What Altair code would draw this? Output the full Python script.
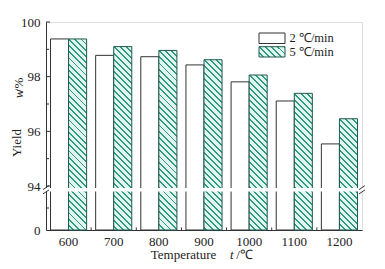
import math
import altair as alt
import pandas as pd

# ---- data ----
temps = ["600", "700", "800", "900", "1000", "1100", "1200"]
series = ["2 ℃/min", "5 ℃/min"]
rate2 = [99.38, 98.78, 98.73, 98.43, 97.81, 97.11, 95.54]
rate5 = [99.38, 99.10, 98.96, 98.62, 98.06, 97.39, 96.46]
y_ticks = [0, 94, 96, 98, 100]
y_minor = [47, 95, 97, 99]

W, H = 316, 208
Y_DOMAIN = [0, 94, 100]
Y_RANGE = [H, 164, 0]
FONT = "Liberation Serif"
HATCH_BG = "#e2f4ee"
HATCH_FG = "#2e9a80"
HATCH_EDGE = "#1f5a4c"

rows = []
for t, a, b in zip(temps, rate2, rate5):
    rows.append({"temp": t, "series": series[0], "yield": a})
    rows.append({"temp": t, "series": series[1], "yield": b})
df = pd.DataFrame(rows)

yscale = alt.Scale(domain=Y_DOMAIN, range=Y_RANGE, nice=False, zero=False)
xscale = alt.Scale(domain=temps, paddingInner=0.2, paddingOuter=0.1)
oscale = alt.Scale(domain=series, paddingInner=0, paddingOuter=0)

x_axis = alt.Axis(title=None, ticks=False, labelFont=FONT, labelFontSize=13,
                  labelColor="#222", domainColor="#333", labelPadding=5,
                  labelAngle=0, grid=False)
y_axis = alt.Axis(title=None, values=y_ticks, ticks=False, labelFont=FONT,
                  labelFontSize=13, labelColor="#222", domainColor="#333",
                  labelPadding=6, grid=False)


def px_of(v):
    # pixel height of a bar (for the hatch gradient geometry only)
    if v >= 94:
        return H - (100 - v) / 6 * 164
    return H - (H - 164) * v / 94


def hatch(w, h, period=6.2, lw=1.9):
    a = (w + h) / (w * w + h * h)
    total = w + h
    stops = [alt.GradientStop(color=HATCH_BG, offset=0)]
    k0 = int(math.floor(-h / period)) - 1
    k1 = int(math.ceil(w / period)) + 1
    for k in range(k0, k1 + 1):
        s = k * period
        t0 = (s - lw / 2 + h) / total
        t1 = (s + lw / 2 + h) / total
        if t1 <= 0 or t0 >= 1:
            continue
        t0 = max(0.0, t0)
        t1 = min(1.0, t1)
        stops += [
            alt.GradientStop(color=HATCH_BG, offset=t0),
            alt.GradientStop(color=HATCH_FG, offset=t0),
            alt.GradientStop(color=HATCH_FG, offset=t1),
            alt.GradientStop(color=HATCH_BG, offset=t1),
        ]
    stops.append(alt.GradientStop(color=HATCH_BG, offset=1))
    return alt.LinearGradient(gradient="linear", stops=stops,
                              x1=0, y1=1, x2=a * w, y2=1 - a * h)


bar_w = W / 7 * 0.8 / 2

x_enc = alt.X("temp:N", scale=xscale, sort=temps, axis=x_axis)
xo_enc = alt.XOffset("series:N", scale=oscale)
y_enc = alt.Y("yield:Q", scale=yscale, axis=y_axis)

layers = []
white = (alt.Chart(df).transform_filter(alt.datum.series == series[0])
         .mark_bar(fill="white", stroke="#333", strokeWidth=1)
         .encode(x=x_enc, xOffset=xo_enc, y=y_enc))
layers.append(white)

for t, v in zip(temps, rate5):
    g = hatch(bar_w, px_of(v))
    layers.append(
        alt.Chart(df)
        .transform_filter((alt.datum.series == series[1]) & (alt.datum.temp == t))
        .mark_bar(fill=g, stroke=HATCH_EDGE, strokeWidth=1)
        .encode(x=x_enc, xOffset=xo_enc, y=y_enc)
    )

# axis break gap
gap_df = pd.DataFrame({"top": [89.5], "bot": [82.0]})
layers.append(
    alt.Chart(gap_df).mark_rect(fill="white")
    .encode(x=alt.value(-3), x2=alt.value(W + 3),
            y=alt.Y("top:Q", scale=yscale, axis=y_axis), y2="bot:Q")
)
for xc in (0, W):
    for yc in (165.6, 169.9):
        layers.append(
            alt.Chart(gap_df).mark_rule(stroke="#333", strokeWidth=1)
            .encode(x=alt.value(xc - 3), x2=alt.value(xc + 3),
                    y=alt.value(yc + 2), y2=alt.value(yc - 2))
        )

# inward ticks on the y axis
for vals, ln in ((y_ticks[1:], 4), (y_minor, 3)):
    layers.append(
        alt.Chart(pd.DataFrame({"v": vals})).mark_rule(stroke="#333", strokeWidth=1)
        .encode(y=alt.Y("v:Q", scale=yscale, axis=y_axis), x=alt.value(0), x2=alt.value(ln))
    )
# tiny inward ticks between temperature groups on the x axis
bt_df = pd.DataFrame({"temp": temps[:-1]})
layers.append(
    alt.Chart(bt_df).mark_rule(stroke="#333", strokeWidth=1, xOffset=W / 7 * 0.1)
    .encode(x=alt.X("temp:N", scale=xscale, sort=temps, bandPosition=1, axis=x_axis),
            y=alt.value(H), y2=alt.value(H - 2.5))
)

# legend
leg_df = pd.DataFrame({"label": series})
layers.append(
    alt.Chart(leg_df).transform_filter(alt.datum.label == series[0])
    .mark_rect(fill="white", stroke="#333", strokeWidth=1)
    .encode(x=alt.value(213), x2=alt.value(239), y=alt.value(11), y2=alt.value(21.5))
)
layers.append(
    alt.Chart(leg_df).transform_filter(alt.datum.label == series[1])
    .mark_rect(fill=hatch(26, 10.5, period=6.2, lw=1.9), stroke=HATCH_EDGE, strokeWidth=1)
    .encode(x=alt.value(213), x2=alt.value(239), y=alt.value(24.7), y2=alt.value(35))
)
for lab, yy in zip(series, (16.2, 29.8)):
    layers.append(
        alt.Chart(pd.DataFrame({"label": [lab]}))
        .mark_text(font=FONT, fontSize=12.5, color="#222", align="left", baseline="middle")
        .encode(text="label:N", x=alt.value(243.5), y=alt.value(yy))
    )

# axis titles (with italic symbols)
def txt(s, x, y, italic=False, angle=0):
    kw = dict(font=FONT, fontSize=13, color="#222", align="center", baseline="middle")
    if italic:
        kw["fontStyle"] = "italic"
    if angle:
        kw["angle"] = angle
    return (alt.Chart(pd.DataFrame({"s": [s]})).mark_text(**kw)
            .encode(text="s:N", x=alt.value(x), y=alt.value(y)))

layers += [
    txt("Temperature", 137.5, 233),
    txt("t", 185.7, 233, italic=True),
    txt("/℃", 198.5, 233),
    txt("Yield", -29.5, 121, angle=270),
    txt("w", -27.5, 72, italic=True, angle=270),
    txt("/%", -27.5, 63, angle=270),
]

chart = (
    alt.layer(*layers)
    .properties(width=W, height=H,
                padding={"left": 46, "top": 22, "right": 23, "bottom": 39},
                autosize=alt.AutoSizeParams(type="none"))
    .configure_view(stroke="#333", strokeWidth=1)
    .configure(background="white")
)

chart.save("out.html", embed_options={"renderer": "svg", "actions": False})
